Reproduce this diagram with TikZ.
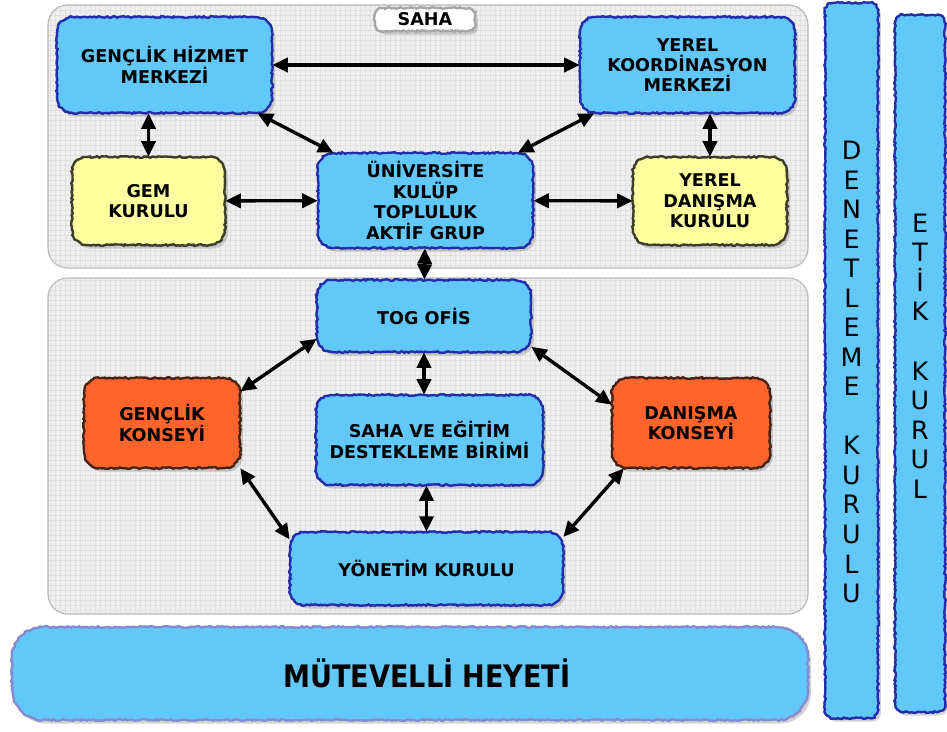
\documentclass[tikz,border=0pt]{standalone}
\usepackage{fontspec}
\setmainfont{DejaVu Sans}
\usepackage{graphicx}
\usetikzlibrary{arrows.meta,shadows,decorations.pathmorphing}

\definecolor{boxblue}{RGB}{98,200,250}
\definecolor{edgeblue}{RGB}{35,45,170}
\definecolor{boxyellow}{RGB}{255,255,160}
\definecolor{edgedark}{RGB}{60,60,40}
\definecolor{boxorange}{RGB}{255,100,45}
\definecolor{edgebrown}{RGB}{70,35,20}
\definecolor{panelgray}{RGB}{239,239,239}
\definecolor{gridgray}{RGB}{224,224,224}

\begin{document}
\begin{tikzpicture}[x=0.025cm,y=-0.025cm,>={Triangle[length=11pt,width=10pt]},
  rough/.style={postaction={draw=#1,line width=1.7pt,sharp corners,decorate,
      decoration={random steps,segment length=1.5pt,amplitude=.6pt}}},
  main node/.style={rounded corners=11pt,align=center,inner sep=2pt,
    font=\fontsize{12.5}{14.5}\selectfont\bfseries,
    drop shadow={opacity=.35,shadow xshift=2pt,shadow yshift=-2.5pt}},
  blue node/.style={main node,fill=boxblue,rough=edgeblue},
  yellow node/.style={main node,fill=boxyellow,rough=edgedark},
  orange node/.style={main node,fill=boxorange,rough=edgebrown},
  side node/.style={main node,rounded corners=6pt,fill=boxblue,rough=edgeblue},
  side text/.style={align=center,font=\fontsize{18}{21}\selectfont},
  link/.style={<->,line width=2.4pt}]

  \useasboundingbox (0,0) rectangle (947,731);

  % saha and merkez panels
  \foreach \ya/\yb in {5/268,278/614}{
    \begin{scope}
      \clip[rounded corners=14pt] (48,\ya) rectangle (808,\yb);
      \fill[panelgray] (48,\ya) rectangle (808,\yb);
      \draw[gridgray,line width=.3pt,step=0.125cm] (48,\ya) grid (808,\yb);
    \end{scope}
    \draw[gray!55,line width=.8pt,rounded corners=14pt] (48,\ya) rectangle (808,\yb);
  }

  \node[main node,fill=white,rough=gray!70,rounded corners=5pt,
    minimum width=2.5cm,minimum height=0.575cm] (sahalabel) at (425,19.5) {SAHA};

  \node[blue node,minimum width=5.375cm,minimum height=2.4cm] (ghm) at (164.5,65) {GENÇLİK HİZMET\\MERKEZİ};
  \node[blue node,minimum width=5.375cm,minimum height=2.4cm] (ykm) at (687.5,65) {YEREL\\KOORDİNASYON\\MERKEZİ};
  \node[yellow node,minimum width=3.825cm,minimum height=2.2cm] (gem) at (148.5,201) {GEM\\KURULU};
  \node[blue node,minimum width=5.375cm,minimum height=2.375cm] (uni) at (425.5,200.5) {ÜNİVERSİTE\\KULÜP\\TOPLULUK\\AKTİF GRUP};
  \node[yellow node,minimum width=3.85cm,minimum height=2.2cm] (ydk) at (710,201) {YEREL\\DANIŞMA\\KURULU};

  \node[blue node,minimum width=5.35cm,minimum height=1.8cm] (tog) at (424,316) {TOG OFİS};
  \node[orange node,minimum width=3.9cm,minimum height=2.25cm] (gk) at (162,423) {GENÇLİK\\KONSEYİ};
  \node[blue node,minimum width=5.675cm,minimum height=2.25cm] (saha) at (429.5,440) {SAHA VE EĞİTİM\\DESTEKLEME BİRİMİ};
  \node[orange node,minimum width=3.95cm,minimum height=2.25cm] (dk) at (691,423) {DANIŞMA\\KONSEYİ};
  \node[blue node,minimum width=6.825cm,minimum height=1.825cm] (yk) at (426.5,568.5) {YÖNETİM KURULU};

  \node[main node,fill=boxblue,rough=edgeblue!55,rounded corners=22pt,
    minimum width=19.9cm,minimum height=2.325cm] (mh) at (410,673.5)
    {\hspace*{0.85cm}\scalebox{.875}[1]{\fontsize{22}{22}\selectfont\bfseries MÜTEVELLİ HEYETİ}};

  \node[side node,minimum width=1.325cm,minimum height=17.875cm] (den) at (851.5,360.5) {};
  \node[side text] (dentext) at (851.5,372) {D\\E\\N\\E\\T\\L\\E\\M\\E\\[21pt]K\\U\\R\\U\\L\\U};
  \node[side node,minimum width=1.25cm,minimum height=17.425cm] (etik) at (920,363.5) {};
  \node[side text] (etiktext) at (920,356) {E\\T\\İ\\K\\[21pt]K\\U\\R\\U\\L};

  \path[link]
    (ghm) edge (ykm)
    (ghm) edge (uni)
    (ykm) edge (uni)
    (ghm.south -| gem) edge (gem)
    (ykm.south -| ydk) edge (ydk)
    (gem) edge (uni)
    (uni) edge (ydk)
    (uni) edge (tog)
    (tog.south) edge (tog.south |- saha.north)
    (yk.north |- saha.south) edge (yk.north)
    (tog.192) edge (gk.22)
    (tog.344) edge (dk.167)
    (gk.-30) edge (yk.168)
    (dk.214) edge (yk.13);
\end{tikzpicture}
\end{document}
